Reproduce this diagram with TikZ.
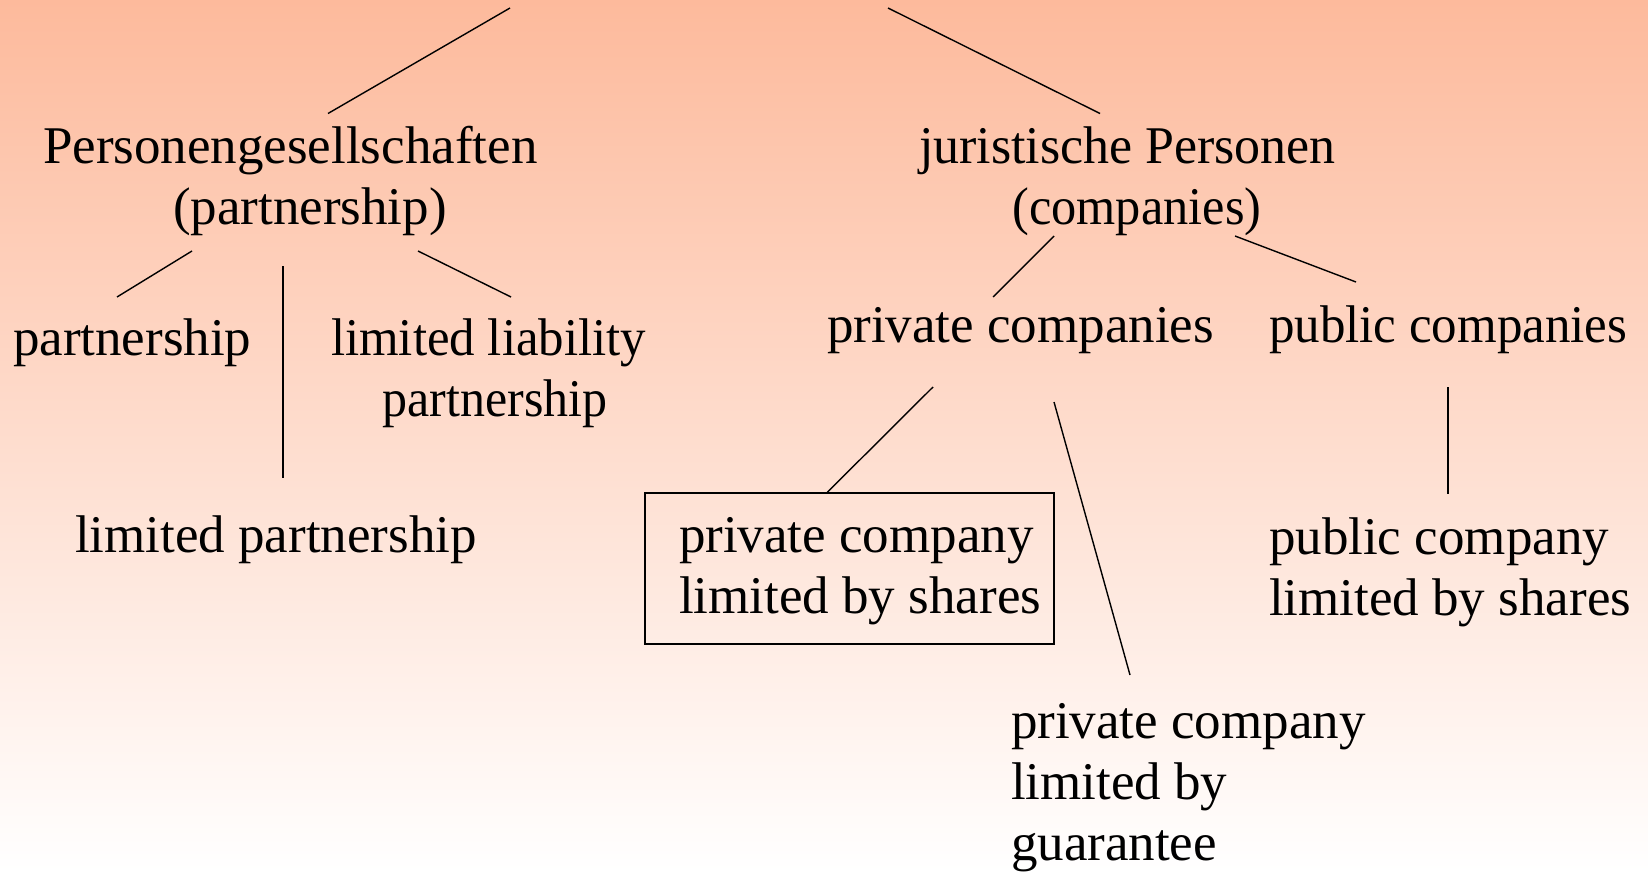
\documentclass[tikz,border=0pt]{standalone}
\usepackage{fontspec}
\setmainfont{Liberation Serif}
\usetikzlibrary{fit}
\definecolor{topsalmon}{RGB}{253,186,156}
\tikzset{
  txt/.style={inner sep=0pt, outer sep=0pt, anchor=base west, align=left,
    font=\fontsize{53}{61}\selectfont},
  conn/.style={line width=1.4pt, black},
  boxed/.style={draw=black, line width=1.4pt, inner sep=0pt}
}
\begin{document}
\begin{tikzpicture}[x=1pt,y=-1pt]
\shade[top color=topsalmon, bottom color=white] (0,0) rectangle (1648,872);
\useasboundingbox (0,0) rectangle (1648,872);

% text nodes (base = baseline of the last line)
\node[txt] (pg) at (43,224) {Personengesellschaften\\\hspace*{130pt}(partnership)};
\node[txt] (jp) at (919,224) {\scalebox{0.98}[1]{juristische Personen}\\\hspace*{93.5pt}\scalebox{0.95}[1]{(companies)}};
\node[txt] (ps) at (13,355) {partnership};
\node[txt] (llp) at (331,416) {\scalebox{0.96}[1]{limited liability}\\\hspace*{51.5pt}\scalebox{0.943}[1]{partnership}};
\node[txt] (lp) at (75,552) {limited partnership};
\node[txt] (prc) at (827,342) {private companies};
\node[txt] (puc) at (1269,342) {\scalebox{0.962}[1]{public companies}};
\node[txt] (pcs) at (679,613) {private company\\limited by shares};
\coordinate (boxNW) at (645,493);
\coordinate (boxSE) at (1054,644);
\node[boxed, fit=(boxNW)(boxSE)] (box) {};
\node[txt] (pcg) at (1011,860) {private company\\limited by\\guarantee};
\node[txt] (pucs) at (1269,615) {public company\\limited by shares};

% free ends at the top
\coordinate (topL) at (510,8);
\coordinate (topR) at (888,8);

% connectors
\draw[conn] (topL) -- ([shift={(285,-110.5)}]pg.base west);
\draw[conn] (topR) -- ([shift={(181,-110.5)}]jp.base west);
\draw[conn] ([shift={(149,27)}]pg.base west) -- ([shift={(104,-58)}]ps.base west);
\draw[conn] ([shift={(240,42)}]pg.base west) -- ([shift={(208,-74)}]lp.base west);
\draw[conn] ([shift={(375,27)}]pg.base west) -- ([shift={(180,-119)}]llp.base west);
\draw[conn] ([shift={(135,12)}]jp.base west) -- ([shift={(166,-45)}]prc.base west);
\draw[conn] ([shift={(316,12)}]jp.base west) -- ([shift={(87,-60)}]puc.base west);
\draw[conn] ([shift={(106,45)}]prc.base west) -- ([shift={(183,0)}]box.north west);
\draw[conn] ([shift={(227,60)}]prc.base west) -- ([shift={(119,-185)}]pcg.base west);
\draw[conn] ([shift={(179,45)}]puc.base west) -- ([shift={(179,-121)}]pucs.base west);
\end{tikzpicture}
\end{document}
